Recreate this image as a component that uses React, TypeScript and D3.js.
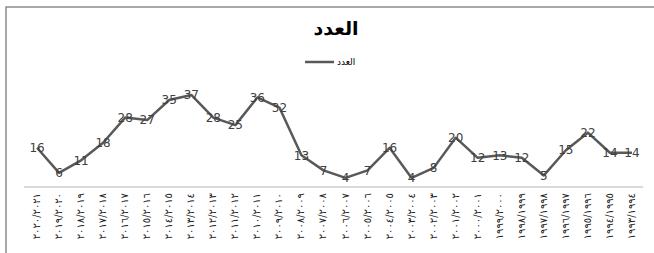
import React from "react";
import * as d3 from "d3";

const years: string[] = [
  "٢٠٢٠/٢٠٢١", "٢٠١٩/٢٠٢٠", "٢٠١٨/٢٠١٩", "٢٠١٧/٢٠١٨", "٢٠١٦/٢٠١٧", "٢٠١٥/٢٠١٦", "٢٠١٤/٢٠١٥",
  "٢٠١٣/٢٠١٤", "٢٠١٢/٢٠١٣", "٢٠١١/٢٠١٢", "٢٠١٠/٢٠١١", "٢٠٠٩/٢٠١٠", "٢٠٠٨/٢٠٠٩", "٢٠٠٧/٢٠٠٨",
  "٢٠٠٦/٢٠٠٧", "٢٠٠٥/٢٠٠٦", "٢٠٠٤/٢٠٠٥", "٢٠٠٣/٢٠٠٤", "٢٠٠٢/٢٠٠٣", "٢٠٠١/٢٠٠٢", "٢٠٠٠/٢٠٠١",
  "١٩٩٩/٢٠٠٠", "١٩٩٨/١٩٩٩", "١٩٩٧/١٩٩٨", "١٩٩٦/١٩٩٧", "١٩٩٥/١٩٩٦", "١٩٩٤/١٩٩٥", "١٩٩٣/١٩٩٤",
];

const counts: number[] = [
  16, 6, 11, 18, 28, 27, 35, 37, 28, 25, 36, 32, 13, 7,
  4, 7, 16, 4, 8, 20, 12, 13, 12, 5, 15, 22, 14, 14,
];

const title = "العدد";
const seriesName = "العدد";

const W = 654;
const H = 253;

export default function App() {
  const x = d3.scaleBand<string>().domain(years).range([26, 643]);
  const y = d3.scaleLinear().domain([0, 40]).range([188, 87.4]);
  const cx = (d: string) => (x(d) ?? 0) + x.bandwidth() / 2;

  const line = d3
    .line<number>()
    .x((_, i) => cx(years[i]))
    .y((d) => y(d));

  return (
    <svg
      width={W}
      height={H}
      style={{ position: "absolute", left: 0, top: 0, background: "#fff" }}
      fontFamily="'DejaVu Sans', sans-serif"
    >
      {/* chart frame */}
      <path d={`M6,${H} L6,7 L${W},7`} fill="none" stroke="#8c8c8c" strokeWidth={1.5} />

      <text x={336} y={35} textAnchor="middle" fontSize={19} fontWeight="bold" fill="#000">
        {title}
      </text>

      {/* legend */}
      <line x1={305} x2={334} y1={62} y2={62} stroke="#595959" strokeWidth={2.5} />
      <text x={337} y={65} fontSize={9} fill="#000">
        {seriesName}
      </text>

      {/* category axis */}
      <line x1={24} x2={643} y1={187} y2={187} stroke="#d9d9d9" strokeWidth={2} />
      {years.map((d) => (
        <text
          key={d}
          transform={`translate(${cx(d) + 3},193) rotate(-90)`}
          textAnchor="end"
          fontSize={10}
          letterSpacing={2}
          fill="#222"
        >
          {d}
        </text>
      ))}

      <path d={line(counts) ?? ""} fill="none" stroke="#595959" strokeWidth={2.5} strokeLinejoin="round" />

      {counts.map((v, i) => (
        <text
          key={i}
          x={cx(years[i])}
          y={y(v)}
          dy="0.35em"
          textAnchor="middle"
          fontSize={12}
          fill="#404040"
        >
          {v}
        </text>
      ))}
    </svg>
  );
}
